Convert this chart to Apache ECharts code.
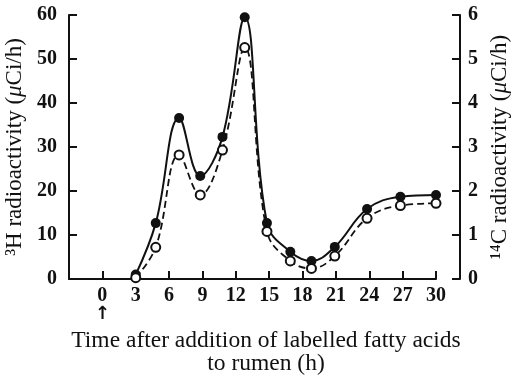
<!DOCTYPE html>
<html>
<head>
<meta charset="utf-8">
<script src="https://cdn.jsdelivr.net/npm/echarts@6/dist/echarts.min.js"></script>
<style>
  html, body { margin: 0; padding: 0; background: #fff; }
  #chart { width: 516px; height: 377px; }
</style>
</head>
<body>
<div id="chart"></div>
<script>
// sampling times (h)
const times = [3, 4.8, 6.9, 8.8, 10.8, 12.8, 14.8, 16.9, 18.8, 20.9, 23.8, 26.8, 30];
// 3H radioactivity (uCi/h), filled circles, solid line
const tritium = [1, 12.7, 36.6, 23.4, 32.3, 59.5, 12.7, 6.2, 4.1, 7.3, 15.9, 18.7, 19.1];
// 14C radioactivity (uCi/h), open circles, dashed line
const carbon = [0.03, 0.72, 2.82, 1.91, 2.93, 5.26, 1.08, 0.41, 0.24, 0.52, 1.38, 1.67, 1.72];

const xTicks = [0, 3, 6, 9, 12, 15, 18, 21, 24, 27, 30];

const serif = "'Liberation Serif', 'DejaVu Serif', serif";
const ink = "#111";

const chart = echarts.init(document.getElementById("chart"));

const labelStyle = {
    color: ink,
    fontFamily: serif,
    fontWeight: "bold",
    fontSize: 20,
};

const titleStyle = {
    color: ink,
    fontFamily: serif,
    fontSize: 23,
    rich: {
        mu: { fontFamily: serif, fontSize: 23, fontStyle: "italic", color: ink },
    },
};

chart.setOption({
    animation: false,
    backgroundColor: "#fff",
    grid: { left: 69, right: 80, top: 15, bottom: 98, outerBoundsMode: "none", containLabel: false },
    xAxis: {
        type: "value",
        min: -3,
        max: 30,
        interval: 3,
        name: "Time after addition of labelled fatty acids\nto rumen (h)",
        nameLocation: "middle",
        nameGap: 47,
        nameTextStyle: {
            color: ink,
            fontFamily: serif,
            fontSize: 23.5,
            lineHeight: 23,
            padding: [0, 0, 0, 27],
        },
        splitLine: { show: false },
        axisLine: { onZero: false, lineStyle: { color: ink, width: 2 } },
        axisTick: { inside: true, length: 8, lineStyle: { color: ink, width: 2 } },
        axisLabel: Object.assign({}, labelStyle, {
            margin: 7,
            lineHeight: 19,
            formatter: (v) => {
                if (xTicks.indexOf(v) < 0) return "";
                return v === 0 ? "0\n{arr|↑}" : String(v);
            },
            rich: {
                arr: { fontFamily: "'DejaVu Sans', sans-serif", fontWeight: "bold", fontSize: 18, color: ink },
            },
        }),
    },
    yAxis: [
        {
            type: "value",
            min: 0,
            max: 60,
            interval: 10,
            name: "³H radioactivity ({mu|μ}Ci/h)",
            nameLocation: "middle",
            nameGap: 42,
            nameRotate: 90,
            nameTextStyle: titleStyle,
            splitLine: { show: false },
            axisLine: { show: true, onZero: false, lineStyle: { color: ink, width: 2 } },
            axisTick: { show: true, inside: true, length: 8, lineStyle: { color: ink, width: 2 } },
            axisLabel: Object.assign({}, labelStyle, { margin: 12 }),
        },
        {
            type: "value",
            position: "right",
            offset: 24,
            min: 0,
            max: 6,
            interval: 1,
            name: "¹⁴C radioactivity ({mu|μ}Ci/h)",
            nameLocation: "middle",
            nameGap: 27,
            nameRotate: 90,
            nameTextStyle: titleStyle,
            splitLine: { show: false },
            axisLine: { show: true, onZero: false, lineStyle: { color: ink, width: 2 } },
            axisTick: { show: true, inside: true, length: 8, lineStyle: { color: ink, width: 2 } },
            axisLabel: Object.assign({}, labelStyle, { margin: 8 }),
        },
    ],
    series: [
        {
            name: "3H",
            type: "line",
            yAxisIndex: 0,
            smooth: 0.4,
            clip: false,
            data: times.map((t, i) => [t, tritium[i]]),
            symbol: "circle",
            symbolSize: 10,
            itemStyle: { color: ink },
            lineStyle: { color: ink, width: 2 },
            z: 3,
        },
        {
            name: "14C",
            type: "line",
            yAxisIndex: 1,
            smooth: 0.4,
            clip: false,
            data: times.map((t, i) => [t, carbon[i]]),
            symbol: "circle",
            symbolSize: 9,
            itemStyle: { color: "#fff", borderColor: ink, borderWidth: 2 },
            lineStyle: { color: ink, width: 1.8, type: [7, 4] },
            z: 4,
        },
    ],
});
</script>
</body>
</html>
